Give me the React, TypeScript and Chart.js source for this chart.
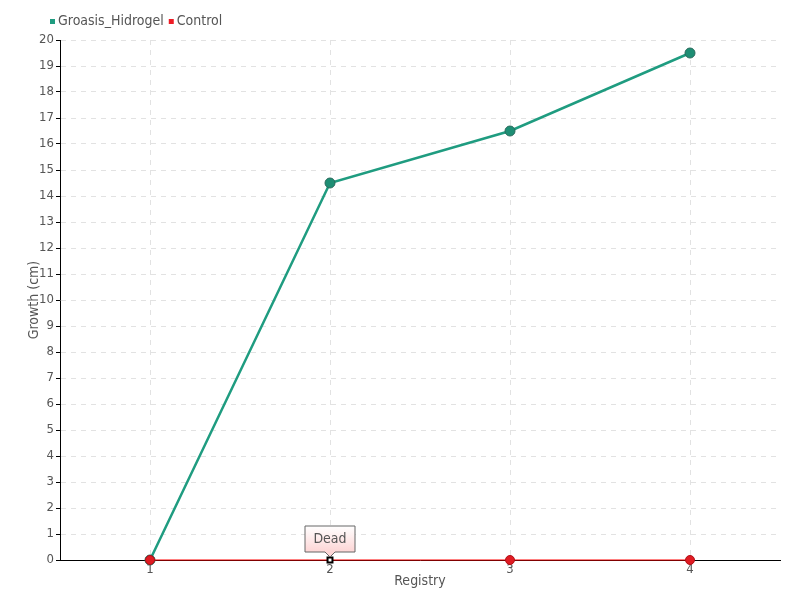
import React, { useEffect, useRef } from "react";
import { Chart, registerables } from "chart.js";

Chart.register(...registerables);

const registries = ["1", "2", "3", "4"];
const groasisHidrogel = [0, 14.5, 16.5, 19.5];
const control = [0, 0, 0, 0];
const seriesNames = ["Groasis_Hidrogel", "Control"];
const seriesColors = ["#1f9c80", "#ee1c25"];
const deadIndex = 1;
const deadLabel = "Dead";
const yTitle = "Growth (cm)";
const xTitle = "Registry";

const FONT = "'DejaVu Sans Condensed', 'Liberation Sans Narrow', sans-serif";
const TEXT = "#555555";

const legendPlugin = {
  id: "customLegend",
  afterDraw(chart: any) {
    const ctx = chart.ctx;
    ctx.save();
    ctx.font = `14px ${FONT}`;
    ctx.textBaseline = "middle";
    let x = 50;
    const y = 21;
    seriesNames.forEach((name, i) => {
      ctx.fillStyle = seriesColors[i];
      ctx.fillRect(x, y - 2, 5, 5);
      x += 8;
      ctx.fillStyle = TEXT;
      ctx.textAlign = "left";
      ctx.fillText(name, x, y);
      x += ctx.measureText(name).width + 5;
    });
    ctx.restore();
  },
};

const deadPlugin = {
  id: "deadLabel",
  afterDatasetsDraw(chart: any) {
    const ctx = chart.ctx;
    const xs = chart.scales.x;
    const ys = chart.scales.y;
    const px = xs.getPixelForValue(deadIndex);
    const py = ys.getPixelForValue(control[deadIndex]);
    const w = 50;
    const h = 26;
    const left = px - w / 2;
    const bottom = py - 8;
    const top = bottom - h;
    ctx.save();
    const g = ctx.createLinearGradient(0, top, 0, bottom);
    g.addColorStop(0, "#ffffff");
    g.addColorStop(1, "#fdd5d5");
    ctx.beginPath();
    ctx.moveTo(left, top);
    ctx.lineTo(left + w, top);
    ctx.lineTo(left + w, bottom);
    ctx.lineTo(px + 5, bottom);
    ctx.lineTo(px, bottom + 5);
    ctx.lineTo(px - 5, bottom);
    ctx.lineTo(left, bottom);
    ctx.closePath();
    ctx.fillStyle = g;
    ctx.fill();
    ctx.strokeStyle = "#666666";
    ctx.lineWidth = 1;
    ctx.stroke();
    ctx.fillStyle = TEXT;
    ctx.font = `14px ${FONT}`;
    ctx.textAlign = "center";
    ctx.textBaseline = "middle";
    ctx.fillText(deadLabel, px, top + h / 2);
    ctx.restore();
  },
};

export default function App() {
  const ref = useRef<HTMLCanvasElement>(null);
  useEffect(() => {
    if (!ref.current) return;
    const chart = new Chart(ref.current, {
      type: "line",
      data: {
        labels: registries,
        datasets: [
          {
            label: seriesNames[0],
            data: groasisHidrogel,
            borderColor: seriesColors[0],
            backgroundColor: "#1e8e74",
            borderWidth: 2.5,
            pointRadius: 5,
            pointBackgroundColor: "#1e8e74",
            pointBorderColor: "#2a6a5c",
            pointBorderWidth: 1,
            tension: 0,
            clip: false,
            order: 1,
          } as any,
          {
            label: seriesNames[1],
            data: control,
            borderColor: "#ff0000",
            backgroundColor: "#e01b22",
            borderWidth: 1,
            pointStyle: control.map((_, i) => (i === deadIndex ? "rect" : "circle")) as any,
            pointRadius: control.map((_, i) => (i === deadIndex ? 3.5 : 4.5)) as any,
            pointBackgroundColor: control.map((_, i) => (i === deadIndex ? "#ffffff" : "#e01b22")) as any,
            pointBorderColor: control.map((_, i) => (i === deadIndex ? "#000000" : "#b01018")) as any,
            pointBorderWidth: control.map((_, i) => (i === deadIndex ? 2 : 1)) as any,
            tension: 0,
            clip: false,
            order: 0,
          } as any,
        ],
      },
      options: {
        responsive: false,
        animation: false,
        layout: { padding: { top: 40, right: 20, left: 0, bottom: 0 } },
        plugins: {
          legend: { display: false },
          tooltip: { enabled: false },
        },
        scales: {
          x: {
            type: "category",
            offset: true,
            afterFit: (s: any) => {
              s.height = 40;
            },
            grid: {
              color: "#e2e2e2",
              drawTicks: false,
              offset: false,
            },
            border: { color: "#000000", width: 1, dash: [5, 5] },
            ticks: { color: TEXT, font: { family: FONT, size: 13 }, padding: 2 },
            title: {
              display: true,
              text: xTitle,
              color: TEXT,
              font: { family: FONT, size: 14 },
              padding: { top: 0, bottom: 10 },
            },
          },
          y: {
            min: 0,
            max: 20,
            afterFit: (s: any) => {
              s.width = 60;
            },
            grid: {
              color: "#e2e2e2",
              tickColor: "#000000",
              tickLength: 4,
              tickBorderDash: [],
            } as any,
            border: { color: "#000000", width: 1, dash: [5, 5] },
            ticks: {
              stepSize: 1,
              color: TEXT,
              font: { family: FONT, size: 13 },
              padding: 2,
            },
            title: {
              display: true,
              text: yTitle,
              color: TEXT,
              font: { family: FONT, size: 14 },
              padding: { top: 26, bottom: 0 },
            },
          },
        },
      },
      plugins: [legendPlugin, deadPlugin],
    });
    return () => chart.destroy();
  }, []);
  return (
    <div style={{ position: "absolute", left: 0, top: 0, width: 800, height: 600, background: "#fff" }}>
      <canvas ref={ref} width={800} height={600} style={{ width: 800, height: 600 }} />
    </div>
  );
}
